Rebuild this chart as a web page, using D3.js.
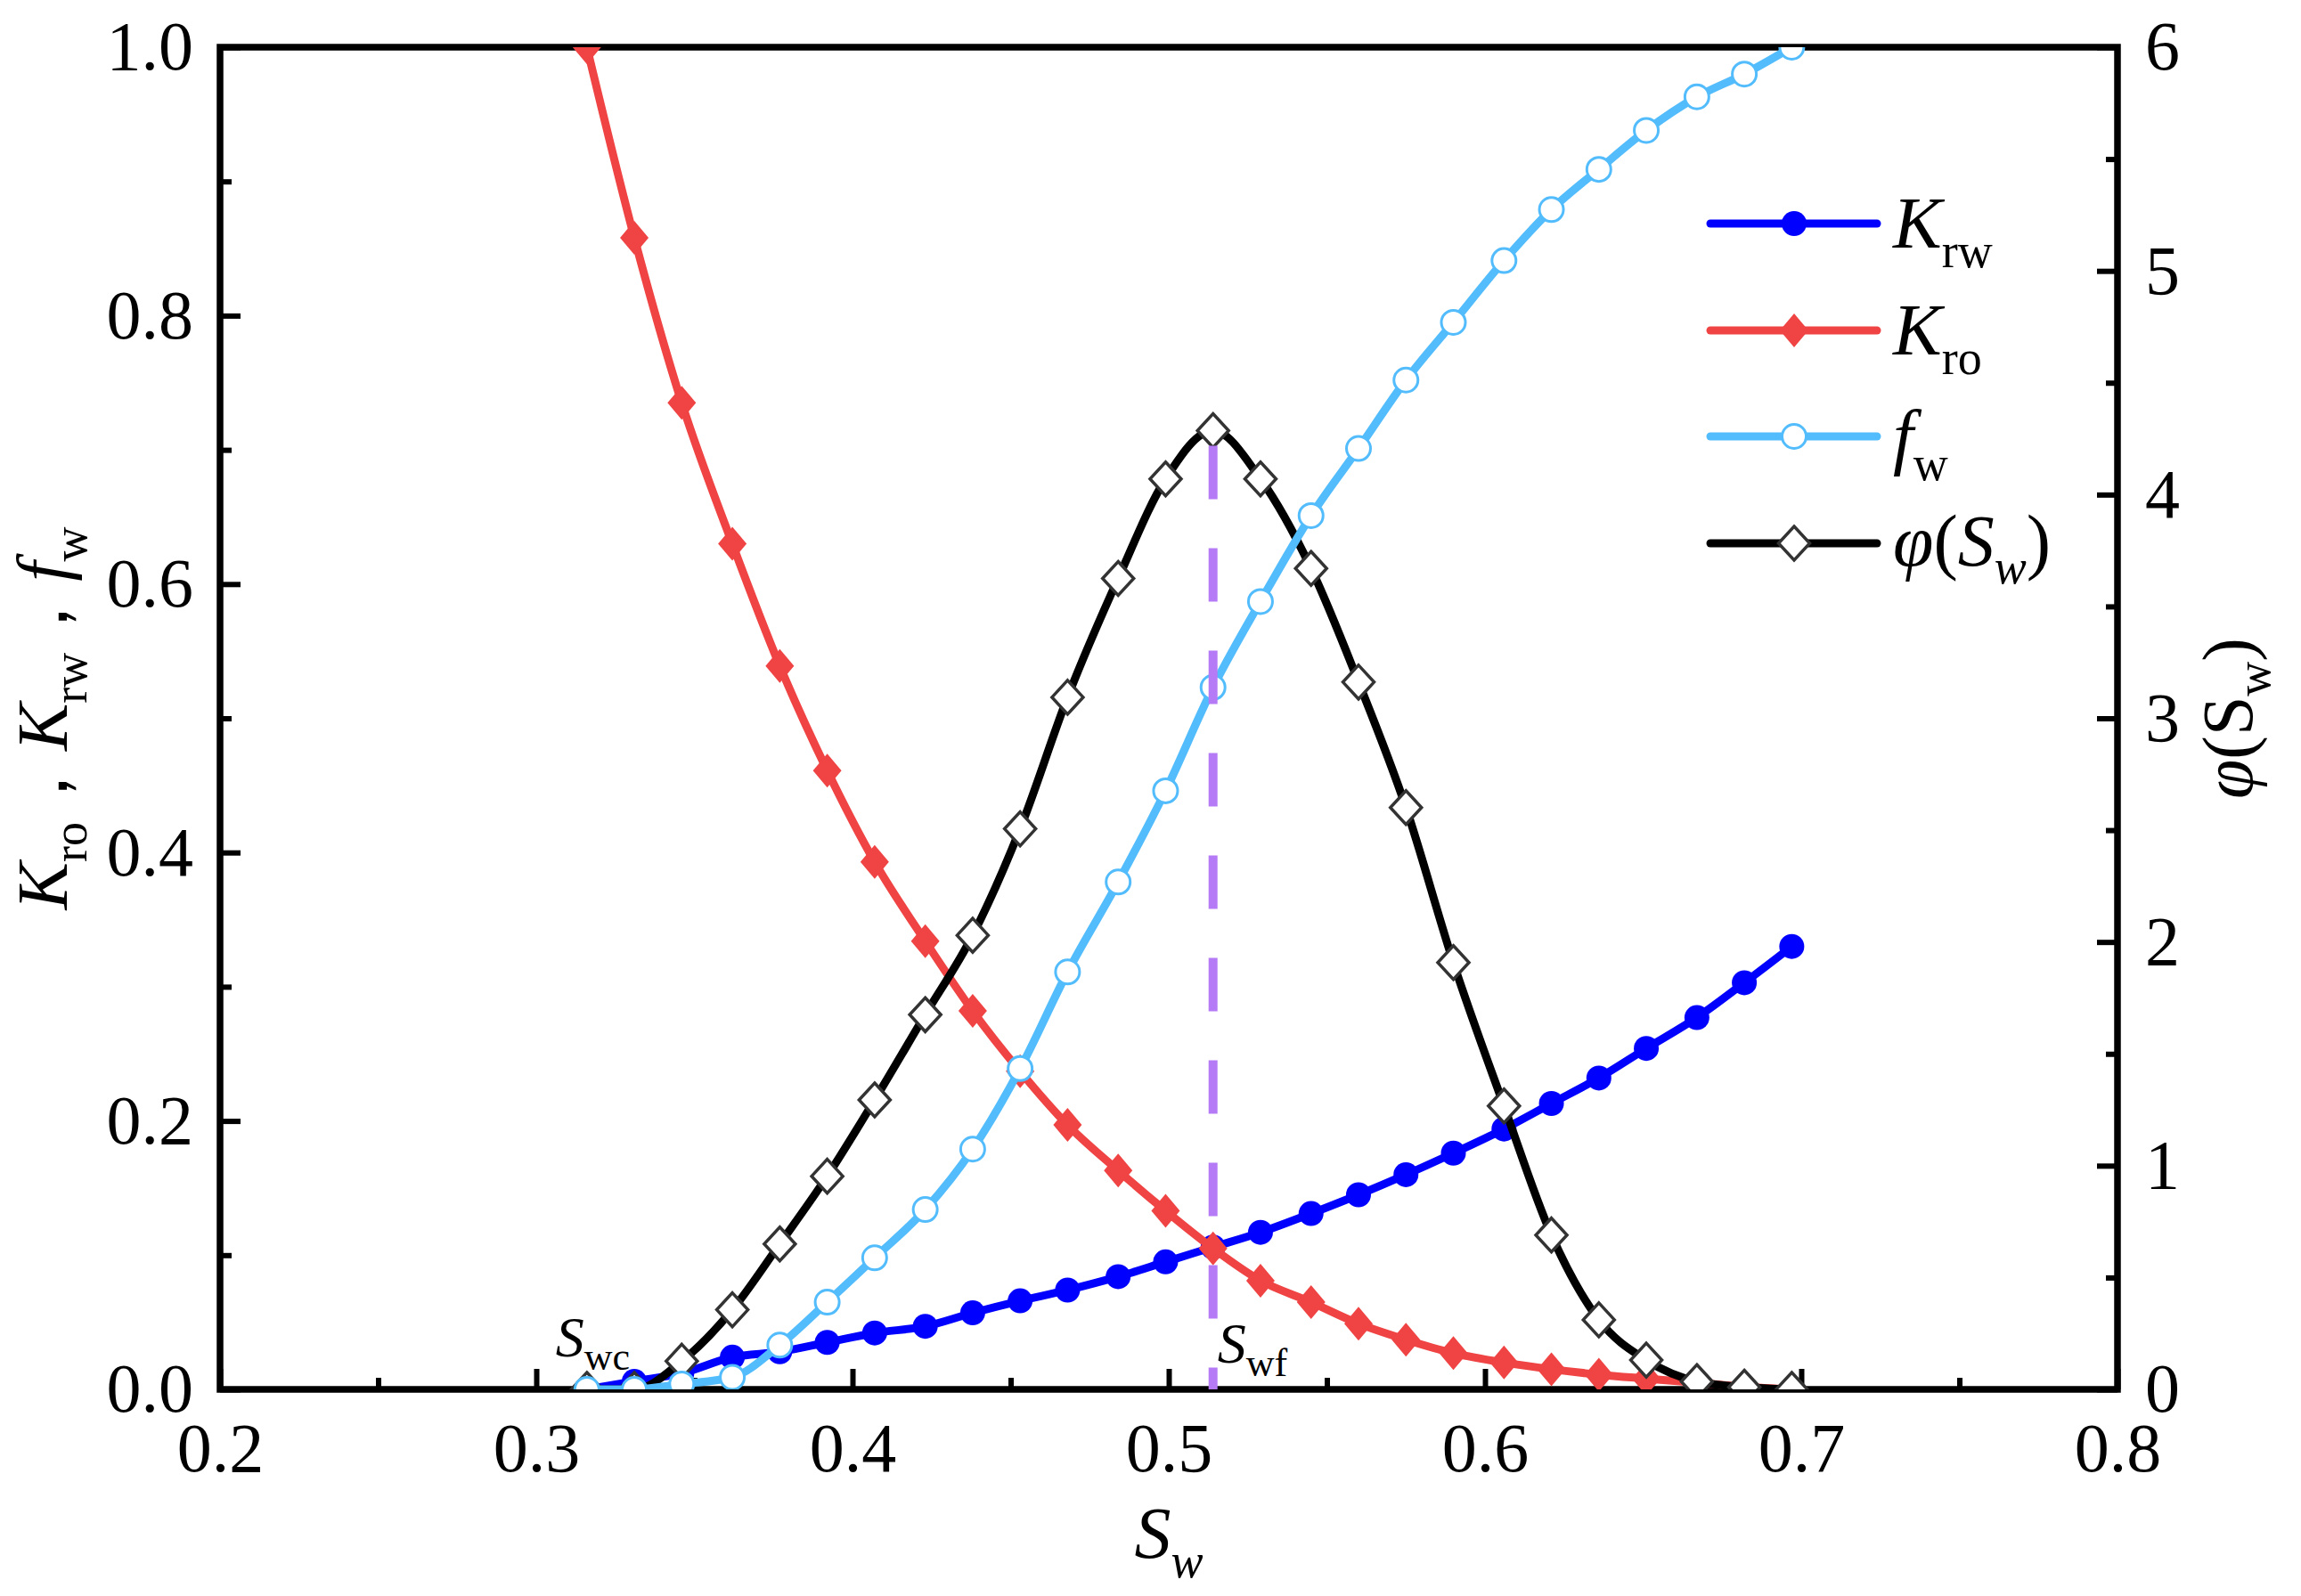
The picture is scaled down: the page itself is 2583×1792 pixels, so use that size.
<!DOCTYPE html>
<html>
<head>
<meta charset="utf-8">
<script src="https://cdn.jsdelivr.net/npm/d3@7"></script>
<style>
    body { margin: 0; background: #fff; }
    svg text { font-family: "Liberation Serif", "Times New Roman", Times, serif; fill: #000; }
</style>
</head>
<body>
<div id="chart"></div>
<script>
// Data
const sw  = [0.316, 0.331, 0.346, 0.362, 0.377, 0.392, 0.407, 0.423, 0.438, 0.453, 0.468, 0.484, 0.499,
             0.514, 0.529, 0.545, 0.560, 0.575, 0.590, 0.606, 0.621, 0.636, 0.651, 0.667, 0.682, 0.697];
const krw = [0, 0.006, 0.012, 0.024, 0.028, 0.035, 0.042, 0.047, 0.057, 0.066, 0.074, 0.084, 0.095,
             0.106, 0.117, 0.131, 0.145, 0.160, 0.176, 0.194, 0.213, 0.232, 0.254, 0.277, 0.303, 0.330];
const kro = [1.0, 0.858, 0.735, 0.630, 0.539, 0.461, 0.393, 0.334, 0.282, 0.237, 0.197, 0.163, 0.133,
             0.105, 0.081, 0.065, 0.049, 0.037, 0.027, 0.020, 0.015, 0.011, 0.008, 0.005, 0.002, 0];
const fw  = [0, 0, 0.004, 0.009, 0.033, 0.065, 0.098, 0.134, 0.179, 0.239, 0.311, 0.378, 0.446,
             0.523, 0.587, 0.651, 0.701, 0.752, 0.795, 0.841, 0.879, 0.909, 0.938, 0.963, 0.980, 1.0];
const phi = [0, 0, 0.126, 0.356, 0.650, 0.953, 1.294, 1.675, 2.030, 2.506, 3.094, 3.625, 4.070,
             4.286, 4.070, 3.670, 3.162, 2.601, 1.908, 1.267, 0.690, 0.311, 0.131, 0.035, 0.010, 0];

const swc = 0.316
const swf = 0.514

const xTicks = [0.2, 0.3, 0.4, 0.5, 0.6, 0.7, 0.8]
const xMinor = [0.25, 0.35, 0.45, 0.55, 0.65, 0.75]
const yTicks = [0, 0.2, 0.4, 0.6, 0.8, 1.0]
const yMinor = [0.1, 0.3, 0.5, 0.7, 0.9]
const rTicks = [0, 1, 2, 3, 4, 5, 6]
const rMinor = [0.5, 1.5, 2.5, 3.5, 4.5, 5.5]

// Dimensions
let dimensions = {
    width: 2583,
    height: 1792,
    margin: { top: 53, right: 206, bottom: 232, left: 247 }
}
dimensions.ctrWidth = dimensions.width - dimensions.margin.left - dimensions.margin.right
dimensions.ctrHeight = dimensions.height - dimensions.margin.top - dimensions.margin.bottom

const svg = d3.select('#chart')
    .append('svg')
    .attr('width', dimensions.width)
    .attr('height', dimensions.height)

const ctr = svg.append('g')
    .attr('transform', `translate(${dimensions.margin.left},${dimensions.margin.top})`)

// Scales
const xScale = d3.scaleLinear().domain([0.2, 0.8]).range([0, dimensions.ctrWidth])
const yScale = d3.scaleLinear().domain([0, 1]).range([dimensions.ctrHeight, 0])
const yRight = d3.scaleLinear().domain([0, 6]).range([dimensions.ctrHeight, 0])

// Axes
const styleAxis = (g, w) => {
    g.attr('font-family', null).attr('font-size', null)
    g.select('.domain').remove()
    g.selectAll('.tick line').attr('stroke', '#000').attr('stroke-width', w)
    g.selectAll('.tick text').style('font-size', '78px')
}

ctr.append('g')
    .attr('transform', `translate(0,${dimensions.ctrHeight})`)
    .call(d3.axisBottom(xScale).tickValues(xTicks).tickFormat(d3.format('.1f'))
        .tickSizeInner(-23).tickSizeOuter(0).tickPadding(37))
    .call(g => styleAxis(g, 6))
ctr.append('g')
    .attr('transform', `translate(0,${dimensions.ctrHeight})`)
    .call(d3.axisBottom(xScale).tickValues(xMinor).tickFormat(() => '')
        .tickSizeInner(-13).tickSizeOuter(0))
    .call(g => styleAxis(g, 6))

ctr.append('g')
    .call(d3.axisLeft(yScale).tickValues(yTicks).tickFormat(d3.format('.1f'))
        .tickSizeInner(-23).tickSizeOuter(0).tickPadding(30))
    .call(g => styleAxis(g, 6))
ctr.append('g')
    .call(d3.axisLeft(yScale).tickValues(yMinor).tickFormat(() => '')
        .tickSizeInner(-13).tickSizeOuter(0))
    .call(g => styleAxis(g, 6))

ctr.append('g')
    .attr('transform', `translate(${dimensions.ctrWidth},0)`)
    .call(d3.axisRight(yRight).tickValues(rTicks).tickFormat(d3.format('d'))
        .tickSizeInner(-23).tickSizeOuter(0).tickPadding(31))
    .call(g => styleAxis(g, 6))
ctr.append('g')
    .attr('transform', `translate(${dimensions.ctrWidth},0)`)
    .call(d3.axisRight(yRight).tickValues(rMinor).tickFormat(() => '')
        .tickSizeInner(-13).tickSizeOuter(0))
    .call(g => styleAxis(g, 6))

// frame
ctr.append('rect')
    .attr('width', dimensions.ctrWidth)
    .attr('height', dimensions.ctrHeight)
    .attr('fill', 'none')
    .attr('stroke', '#000')
    .attr('stroke-width', 7.5)

// Series
const series = [
    { key: 'krw', values: krw, scale: yScale, color: '#0000FF', marker: 'circle', fill: '#0000FF', stroke: 'none' },
    { key: 'kro', values: kro, scale: yScale, color: '#F04343', marker: 'diamondRed', fill: '#F04343', stroke: 'none' },
    { key: 'phi', values: phi, scale: yRight, color: '#000000', marker: 'diamond', fill: '#FFFFFF', stroke: '#333333' },
    { key: 'fw',  values: fw,  scale: yScale, color: '#52BCFC', marker: 'circle', fill: '#FFFFFF', stroke: '#52BCFC' }
]

const markerPath = {
    diamond: 'M0,-19L17.5,0L0,19L-17.5,0Z',
    diamondRed: 'M0,-19L16,0L0,19L-16,0Z'
}

const drawMarker = (sel, s) => {
    if (s.marker === 'circle') {
        sel.append('circle')
            .attr('r', s.stroke === 'none' ? 14 : 13.5)
            .attr('fill', s.fill)
            .attr('stroke', s.stroke)
            .attr('stroke-width', 3)
    } else {
        sel.append('path')
            .attr('d', markerPath[s.marker])
            .attr('fill', s.fill)
            .attr('stroke', s.stroke)
            .attr('stroke-width', 3.5)
    }
}

svg.append('defs').append('clipPath').attr('id', 'plotClip')
    .append('rect')
    .attr('width', dimensions.ctrWidth)
    .attr('height', dimensions.ctrHeight)

const plot = ctr.append('g').attr('clip-path', 'url(#plotClip)')

series.forEach(s => {
    const pts = sw.map((x, i) => ({ x: x, y: s.values[i] }))
    const line = d3.line()
        .x(d => xScale(d.x))
        .y(d => s.scale(d.y))
        .curve(d3.curveMonotoneX)
    const g = plot.append('g').attr('class', s.key)
    g.append('path')
        .datum(pts)
        .attr('d', line)
        .attr('fill', 'none')
        .attr('stroke', s.color)
        .attr('stroke-width', 9)
        .attr('stroke-linejoin', 'round')
    g.selectAll('g.pt')
        .data(pts)
        .join('g')
        .attr('class', 'pt')
        .attr('transform', d => `translate(${xScale(d.x)},${s.scale(d.y)})`)
        .each(function () { drawMarker(d3.select(this), s) })
})

// Swf dashed line
const phiPeak = d3.max(phi)
plot.append('line')
    .attr('x1', xScale(swf)).attr('x2', xScale(swf))
    .attr('y1', yRight(phiPeak) + 17)
    .attr('y2', dimensions.ctrHeight)
    .attr('stroke', '#B57AF6')
    .attr('stroke-width', 10)
    .attr('stroke-dasharray', '60 55')

// Annotations
const swcText = ctr.append('text')
    .attr('x', xScale(swc) - 35)
    .attr('y', dimensions.ctrHeight - 37)
    .style('font-size', '64px')
swcText.append('tspan').style('font-style', 'italic').text('S')
swcText.append('tspan').attr('dy', 15).style('font-size', '44px').text('wc')

const swfText = ctr.append('text')
    .attr('x', xScale(swf) + 5)
    .attr('y', dimensions.ctrHeight - 30)
    .style('font-size', '64px')
swfText.append('tspan').style('font-style', 'italic').text('S')
swfText.append('tspan').attr('dy', 15).style('font-size', '44px').text('wf')

// Axis titles
const xTitle = ctr.append('text')
    .attr('x', dimensions.ctrWidth / 2)
    .attr('y', dimensions.ctrHeight + 189)
    .attr('text-anchor', 'middle')
    .style('font-size', '82px')
xTitle.append('tspan').style('font-style', 'italic').text('S')
xTitle.append('tspan').attr('dy', 22).style('font-size', '54px').style('font-style', 'italic').text('w')

const yTitle = svg.append('text')
    .attr('transform', `translate(75,${dimensions.margin.top + dimensions.ctrHeight / 2}) rotate(-90)`)
    .attr('text-anchor', 'middle')
    .style('font-size', '80px')
const yParts = [['K', 'ro'], '，', ['K', 'rw'], '，', ['f', 'w']]
yParts.forEach((p, i) => {
    if (typeof p === 'string') {
        yTitle.append('tspan').attr('dy', -22).text(p)
    } else {
        yTitle.append('tspan').style('font-style', 'italic').text(p[0])
        yTitle.append('tspan').attr('dy', 22).style('font-size', '54px').text(p[1])
    }
})

const rTitle = svg.append('text')
    .attr('transform', `translate(2528,${dimensions.margin.top + dimensions.ctrHeight / 2}) rotate(-90)`)
    .attr('text-anchor', 'middle')
    .style('font-size', '80px')
rTitle.append('tspan').style('font-style', 'italic').text('φ')
rTitle.append('tspan').text('(S')
rTitle.append('tspan').attr('dy', 20).style('font-size', '54px').text('w')
rTitle.append('tspan').attr('dy', -20).text(')')

// Legend
const legendRows = [
    { s: series[0], y: 251, label: ['K', 'rw'] },
    { s: series[1], y: 371, label: ['K', 'ro'] },
    { s: series[3], y: 490, label: ['f', 'w'] },
    { s: series[2], y: 610, label: null }
]
const legend = svg.append('g')
legendRows.forEach(r => {
    const g = legend.append('g')
    g.append('line')
        .attr('x1', 1920).attr('x2', 2107)
        .attr('y1', r.y).attr('y2', r.y)
        .attr('stroke', r.s.color)
        .attr('stroke-width', 9)
        .attr('stroke-linecap', 'round')
    const m = g.append('g').attr('transform', `translate(2014,${r.y})`)
    drawMarker(m, r.s)
    const t = g.append('text')
        .attr('x', 2125)
        .attr('y', r.y + 27)
        .style('font-size', '82px')
    if (r.label) {
        t.append('tspan').style('font-style', 'italic').text(r.label[0])
        t.append('tspan').attr('dy', 22).style('font-size', '54px').text(r.label[1])
    } else {
        t.attr('y', r.y + 25)
        t.append('tspan').style('font-style', 'italic').text('φ')
        t.append('tspan').text('(')
        t.append('tspan').style('font-style', 'italic').text('S')
        t.append('tspan').attr('dy', 20).style('font-size', '54px').style('font-style', 'italic').text('w')
        t.append('tspan').attr('dy', -20).text(')')
    }
})
</script>
</body>
</html>
